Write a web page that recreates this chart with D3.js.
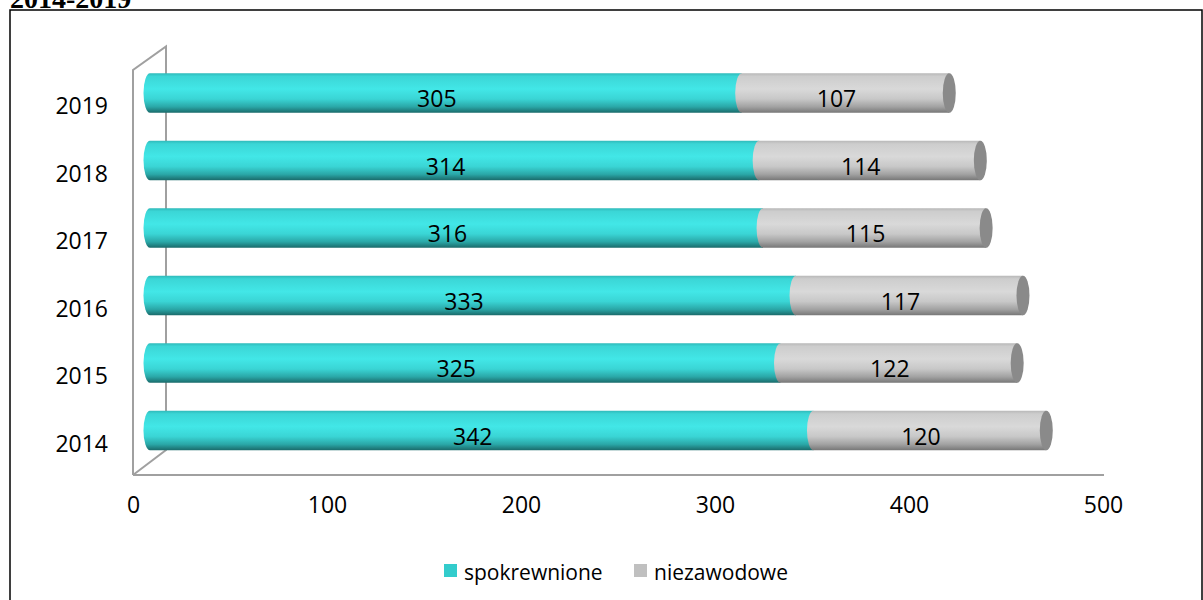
<!DOCTYPE html>
<html><head><meta charset="utf-8">
<script src="https://cdn.jsdelivr.net/npm/d3@7"></script>
<style>
body{margin:0;background:#fff;}
svg{display:block;}
text{font-family:"Open Sans",sans-serif;}
</style></head>
<body>
<svg id="chart" width="1203" height="600"></svg>
<script>
const years = ["2019","2018","2017","2016","2015","2014"];
const spokrewnione = [305,314,316,333,325,342];
const niezawodowe = [107,114,115,117,122,120];
const xTicks = [0,100,200,300,400,500];
const seriesNames = ["spokrewnione","niezawodowe"];
const title = "2014-2019";

const svg = d3.select("#chart");
const defs = svg.append("defs");

function grad(id, stops){
  const g = defs.append("linearGradient").attr("id", id).attr("x1",0).attr("y1",0).attr("x2",0).attr("y2",1);
  stops.forEach(s => g.append("stop").attr("offset", s[0]).attr("stop-color", s[1]));
}
grad("gCyan", [["0%","#2fbaba"],["8%","#3bd6d6"],["40%","#42e7e7"],["65%","#3ad5d5"],["85%","#2aa7a7"],["100%","#1a6a6a"]]);
grad("gGrey", [["0%","#b8b8b8"],["8%","#cdcdcd"],["40%","#d9d9d9"],["65%","#c8c8c8"],["85%","#a2a2a2"],["100%","#777777"]]);

// border + title
svg.append("rect").attr("x",10).attr("y",10).attr("width",1192).attr("height",600).attr("fill","none").attr("stroke","#000").attr("stroke-width",1.5);
svg.append("text").attr("x",10).attr("y",8).text(title)
  .style("font-family","'Liberation Serif',serif").style("font-weight","bold").style("font-size","28px").attr("fill","#000");

const x = d3.scaleLinear().domain([0,500]).range([133,1103]);
const y = d3.scaleBand().domain(years).range([70,475]);
const depth = {dx:33, dy:-23.5};
const mid = {dx:17, dy:-10.75};
const barH = 39.5, rx = 6.5, ry = barH/2;

// walls / floor
const wall = svg.append("g").attr("fill","none").attr("stroke","#a0a0a0").attr("stroke-width",2);
const y0 = y.range()[0], y1 = y.range()[1], xl = x(0);
wall.append("path").attr("d", `M${xl},${y1}L${xl},${y0}L${xl+depth.dx},${y0+depth.dy}L${xl+depth.dx},${y1-25}L${xl},${y1}`);
wall.append("path").attr("d", `M${xl},${y1}L${x(500)+1},${y1}`);

// axes (labels only)
const xa = svg.append("g").attr("transform",`translate(0,${y1})`)
  .call(d3.axisBottom(x).tickValues(xTicks).tickSize(0).tickPadding(22));
xa.select(".domain").remove();
xa.selectAll("text").style("font-size","23px").style("font-family","'Open Sans',sans-serif").attr("fill","#000");

const ya = svg.append("g").attr("transform",`translate(108,0)`)
  .call(d3.axisLeft(y).tickSize(0).tickPadding(0));
ya.select(".domain").remove();
ya.selectAll("text").style("font-size","23px").style("font-family","'Open Sans',sans-serif").attr("fill","#000").attr("dy","0.45em");

// bars
const bx = v => x(v) + mid.dx;
const bars = svg.append("g");
years.forEach((yr,i) => {
  const cy = y(yr) + y.bandwidth()/2 + mid.dy;
  const top = cy - ry, bot = cy + ry;
  const a0 = bx(0), a1 = bx(spokrewnione[i]), a2 = bx(spokrewnione[i] + niezawodowe[i]);
  bars.append("path").attr("fill","url(#gCyan)")
    .attr("d", `M${a0},${top}L${a1},${top}L${a1},${bot}L${a0},${bot}A${rx},${ry} 0 0 1 ${a0},${top}Z`);
  bars.append("path").attr("fill","url(#gGrey)")
    .attr("d", `M${a1},${top}L${a2},${top}L${a2},${bot}L${a1},${bot}A${rx},${ry} 0 0 1 ${a1},${top}Z`);
  bars.append("ellipse").attr("cx",a2).attr("cy",cy).attr("rx",rx).attr("ry",ry).attr("fill","#8a8a8a");
  bars.append("text").attr("x",(a0+a1)/2-9).attr("y",cy+6).attr("dy","0.35em").attr("text-anchor","middle")
    .style("font-size","23px").attr("fill","#000").text(spokrewnione[i]);
  bars.append("text").attr("x",(a1+a2)/2-9).attr("y",cy+6).attr("dy","0.35em").attr("text-anchor","middle")
    .style("font-size","23px").attr("fill","#000").text(niezawodowe[i]);
});

// legend
const legColors = ["#33cccc","#c0c0c0"];
const legX = [444,634];
const leg = svg.append("g");
seriesNames.forEach((n,i) => {
  leg.append("rect").attr("x",legX[i]).attr("y",564).attr("width",13).attr("height",13).attr("fill",legColors[i]);
  leg.append("text").attr("x",legX[i]+20).attr("y",580).style("font-size","21px").attr("fill","#000").text(n);
});
</script>
</body></html>
